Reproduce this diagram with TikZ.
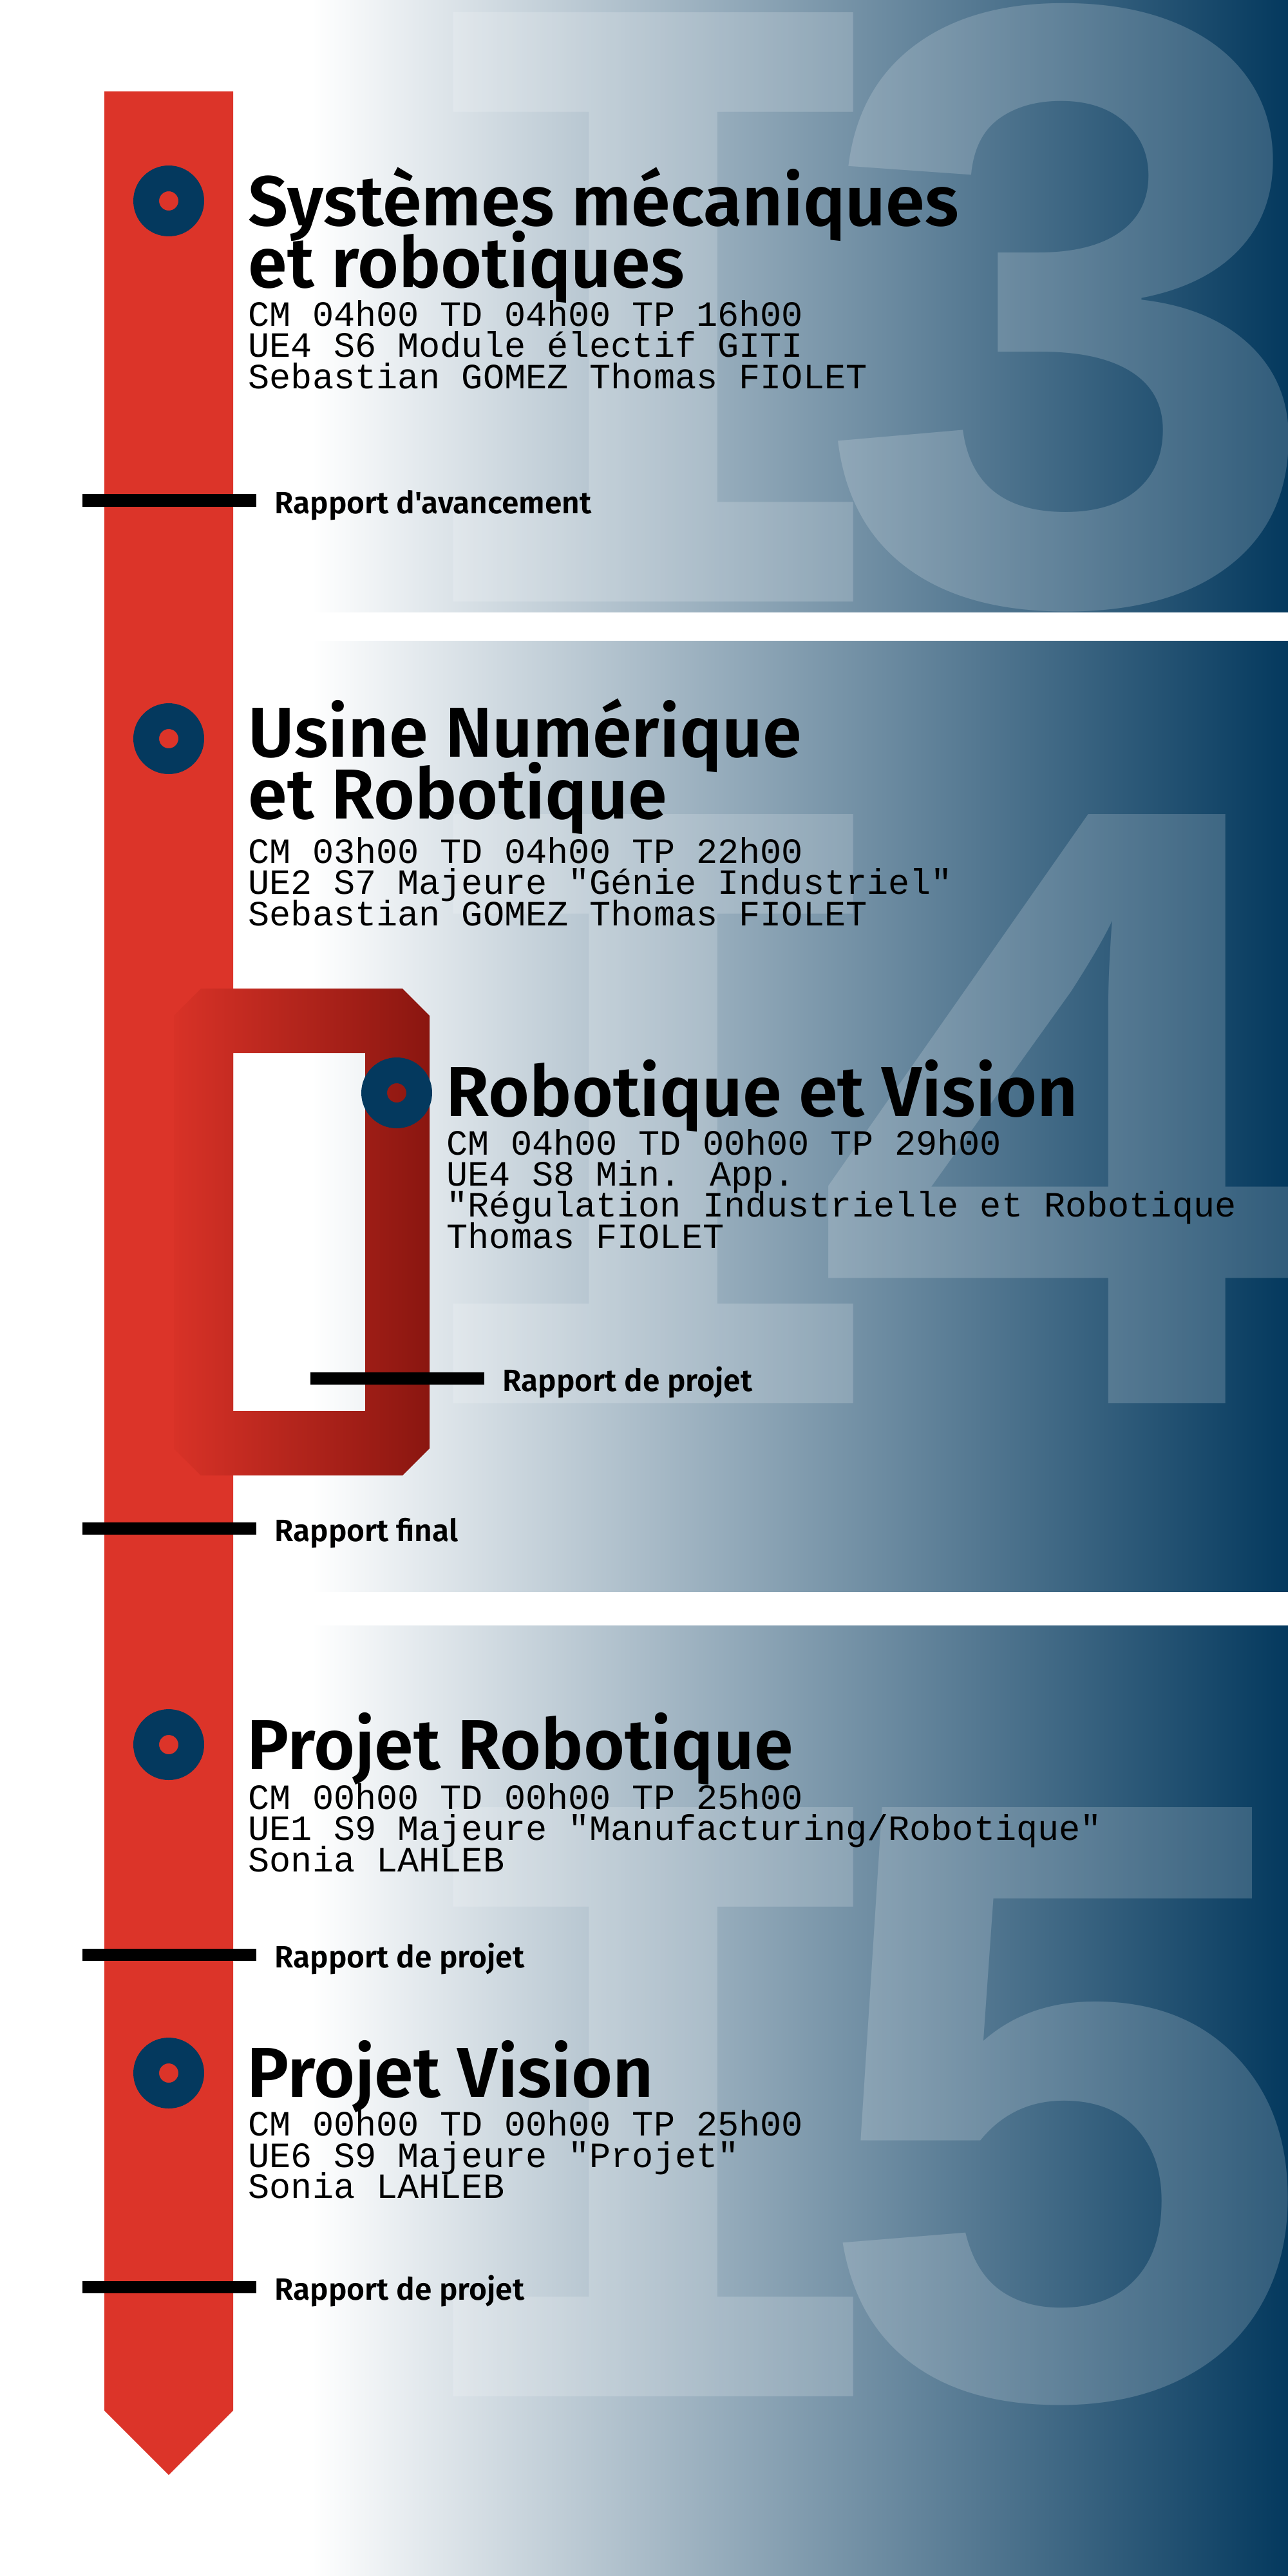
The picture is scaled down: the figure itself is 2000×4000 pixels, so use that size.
\documentclass[tikz,border=0pt]{standalone}
\usepackage{fontspec}
\setmainfont{Fira Sans}
\newfontfamily\headfont{Fira Sans SemiBold}[Ligatures=TeXOff]
\newfontfamily\codefont{Liberation Mono}[Ligatures=TeXOff]
\newfontfamily\hugefont{Liberation Mono}[Ligatures=TeXOff]

\definecolor{navy}{RGB}{4,57,94}
\definecolor{barred}{RGB}{220,52,41}
\definecolor{loopleft}{RGB}{216,50,39}
\definecolor{loopright}{RGB}{138,22,16}

% fixed baseline distances, even where lines crowd each other
\newcommand\tightlines{\lineskiplimit=-100pt\lineskip=0pt}

\tikzset{
  band/.style={left color=white, right color=navy},
  huge glyph/.style={text=white, text opacity=0.18, inner sep=0pt, anchor=base,
    font=\hugefont\bfseries\fontsize{395pt}{395pt}\selectfont},
  title/.style={anchor=base west, inner sep=0pt, align=left, text=black,
    font=\headfont\fontsize{31.2pt}{27.03pt}\selectfont\tightlines},
  info/.style={anchor=base west, inner sep=0pt, align=left, text=black,
    font=\codefont\fontsize{15.7pt}{13.66pt}\selectfont\tightlines},
  milestone/.style={anchor=base west, inner sep=0pt, text=black,
    font=\headfont\fontsize{13.6pt}{15pt}\selectfont},
  tickline/.style={line width=0.19cm, black},
  ring/.style={fill=navy, even odd rule},
}

\begin{document}
\begin{tikzpicture}[x=0.01cm, y=-0.01cm]
\useasboundingbox (0,0) rectangle (2000,4000);
\fill[white] (0,0) rectangle (2000,4000);

% year bands with their large watermark labels
\shade[band] (485,0) rectangle (2000,950);
\shade[band] (485,995) rectangle (2000,2471);
\shade[band] (485,2524) rectangle (2000,4000);

\begin{scope}
  \clip (485,0) rectangle (2000,950);
  \node[huge glyph] (i3) at (1014,934) {I};
  \node[huge glyph] (d3) at (1655,934) {3};
\end{scope}
\begin{scope}
  \clip (485,995) rectangle (2000,2471);
  \node[huge glyph] (i4) at (1014,2179) {I};
  \node[huge glyph] (d4) at (1655,2179) {4};
\end{scope}
\begin{scope}
  \clip (485,2524) rectangle (2000,4000);
  \node[huge glyph] (i5) at (1014,3721) {I};
  \node[huge glyph] (d5) at (1655,3721) {5};
\end{scope}

% timeline arrow
\fill[barred] (162,142) -- (362,142) -- (362,3743) -- (262,3843) -- (162,3743) -- cycle;

% side loop for the elective course
\shade[left color=loopleft, right color=loopright, even odd rule]
  (312,1535) -- (625,1535) -- (667,1577) -- (667,2249) -- (625,2291)
  -- (312,2291) -- (270,2249) -- (270,1577) -- cycle
  (362,1635) rectangle (567,2191);

% milestone ticks
\draw[tickline] (128,777) -- (398,777);
\draw[tickline] (482,2140) -- (752,2140);
\draw[tickline] (128,2373) -- (398,2373);
\draw[tickline] (128,3035) -- (398,3035);
\draw[tickline] (128,3551) -- (398,3551);

% course markers
\fill[ring] (262,312) circle (55) (262,312) circle (15);
\fill[ring] (262,1147) circle (55) (262,1147) circle (15);
\fill[ring] (616,1697) circle (55) (616,1697) circle (15);
\fill[ring] (262,2709) circle (55) (262,2709) circle (15);
\fill[ring] (262,3219) circle (55) (262,3219) circle (15);

% course titles and details (nodes sit on the baseline of their last line)
\node[title] (t1) at (385,446) {Systèmes mécaniques\\et robotiques};
\node[info] (c1) at (385,603) {CM 04h00 TD 04h00 TP 16h00\\UE4 S6 Module électif GITI\\Sebastian GOMEZ Thomas FIOLET};

\node[title] (t2) at (385,1271) {Usine Numérique\\et Robotique};
\node[info] (c2) at (385,1437) {CM 03h00 TD 04h00 TP 22h00\\UE2 S7 Majeure "Génie Industriel"\\Sebastian GOMEZ Thomas FIOLET};

\node[title] (t3) at (692,1733) {Robotique et Vision};
\node[info] (c3) at (693,1938) {CM 04h00 TD 00h00 TP 29h00\\UE4 S8 Min. App.\\"Régulation Industrielle et Robotique\\Thomas FIOLET};

\node[title] (t4) at (383,2747) {Projet Robotique};
\node[info] (c4) at (385,2906) {CM 00h00 TD 00h00 TP 25h00\\UE1 S9 Majeure "Manufacturing/Robotique"\\Sonia LAHLEB};

\node[title] (t5) at (383,3256) {Projet Vision};
\node[info] (c5) at (385,3413) {CM 00h00 TD 00h00 TP 25h00\\UE6 S9 Majeure "Projet"\\Sonia LAHLEB};

% milestone labels
\node[milestone] (m1) at (426,797) {Rapport d'avancement};
\node[milestone] (m2) at (780,2160) {Rapport de projet};
\node[milestone] (m3) at (426,2393) {Rapport final};
\node[milestone] (m4) at (426,3055) {Rapport de projet};
\node[milestone] (m5) at (426,3571) {Rapport de projet};
\end{tikzpicture}
\end{document}
